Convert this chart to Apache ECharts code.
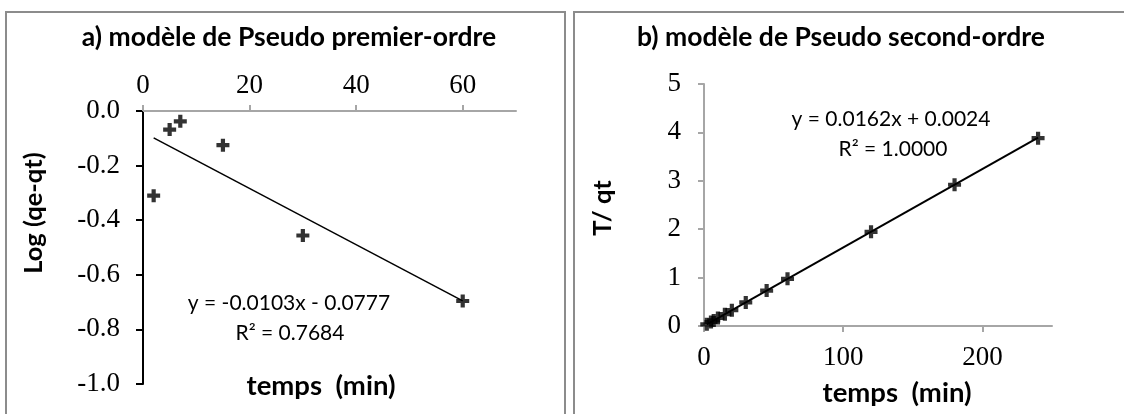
<!DOCTYPE html>
<html>
<head>
<meta charset="utf-8">
<script src="https://cdn.jsdelivr.net/npm/echarts@6/dist/echarts.min.js"></script>
<style>
  html, body { margin: 0; padding: 0; background: #fff; }
  #chart { width: 1124px; height: 414px; }
</style>
</head>
<body>
<div id="chart"></div>
<script>
// a) pseudo first-order: log(qe - qt) versus time
const timeA = [2, 5, 7, 15, 30, 60];
const logA = [-0.31, -0.068, -0.038, -0.125, -0.456, -0.696];
const slopeA = -0.0103;
const interceptA = -0.0777;
const r2A = 0.7684;

// b) pseudo second-order: t / qt versus time
const timeB = [2, 5, 7, 10, 15, 20, 30, 45, 60, 120, 180, 240];
const ratioB = [0.035, 0.083, 0.116, 0.165, 0.245, 0.326, 0.488, 0.731, 0.975, 1.946, 2.918, 3.88];
const slopeB = 0.0162;
const interceptB = 0.0024;
const r2B = 1.0;

// tick values
const ticksAX = [0, 20, 40, 60];
const ticksAY = [-1.0, -0.8, -0.6, -0.4, -0.2, 0.0];
const ticksBX = [0, 100, 200];
const ticksBY = [0, 1, 2, 3, 4, 5];

const SERIF = 'Liberation Serif';
const SANS = 'Lato';
const GRAY = '#a6a6a6';
// bold "+" marker
const PLUS = 'path://M4.4,0H8.6V4.4H13V8.6H8.6V13H4.4V8.6H0V4.4H4.4Z';

function fitLine(xs, slope, icpt) {
  const lo = Math.min(...xs), hi = Math.max(...xs);
  return [[lo, slope * lo + icpt], [hi, slope * hi + icpt]];
}
function eqText(slope, icpt) {
  const sign = icpt < 0 ? ' - ' : ' + ';
  return 'y = ' + slope.toFixed(4) + 'x' + sign + Math.abs(icpt).toFixed(4);
}
function label(text, x, y, font, rot) {
  return {
    type: 'text', x: x, y: y, rotation: rot || 0, z: 10,
    style: { text: text, x: 0, y: 0, fill: '#000', font: font,
             align: 'center', verticalAlign: 'middle',
             textAlign: 'center', textVerticalAlign: 'middle' }
  };
}

const tickLabel = { fontFamily: SERIF, fontSize: 27, color: '#000' };

const chart = echarts.init(document.getElementById('chart'), null, { renderer: 'canvas' });
chart.setOption({
  backgroundColor: '#fff',
  animation: false,
  grid: [
    { left: 143, top: 111, width: 373, height: 273 },
    { left: 704, top: 84, width: 348, height: 242 }
  ],
  xAxis: [
    {
      gridIndex: 0, type: 'value', position: 'top', min: 0, max: 70, interval: 20,
      axisLine: { show: true, onZero: false, lineStyle: { color: GRAY, width: 2 } },
      axisTick: { show: true, length: 6, customValues: ticksAX, lineStyle: { color: GRAY, width: 2 } },
      axisLabel: Object.assign({ margin: 12, customValues: ticksAX }, tickLabel),
      splitLine: { show: false }
    },
    {
      gridIndex: 1, type: 'value', min: 0, max: 250, interval: 100,
      axisLine: { show: true, onZero: false, lineStyle: { color: GRAY, width: 2 } },
      axisTick: { show: true, length: 6, customValues: ticksBX, lineStyle: { color: GRAY, width: 2 } },
      axisLabel: Object.assign({ margin: 18, customValues: ticksBX }, tickLabel),
      splitLine: { show: false }
    }
  ],
  yAxis: [
    {
      gridIndex: 0, type: 'value', min: -1, max: 0, interval: 0.2,
      axisLine: { show: true, onZero: false, lineStyle: { color: '#000', width: 2 } },
      axisTick: { show: true, length: 7, customValues: ticksAY, lineStyle: { color: '#000', width: 2 } },
      axisLabel: Object.assign({ margin: 23, customValues: ticksAY,
        formatter: v => (Math.abs(v) < 1e-9 ? 0 : v).toFixed(1) }, tickLabel),
      splitLine: { show: false }
    },
    {
      gridIndex: 1, type: 'value', min: 0, max: 5, interval: 1,
      axisLine: { show: true, onZero: false, lineStyle: { color: GRAY, width: 2 } },
      axisTick: { show: true, length: 6, customValues: ticksBY, lineStyle: { color: GRAY, width: 2 } },
      axisLabel: Object.assign({ margin: 23, customValues: ticksBY }, tickLabel),
      splitLine: { show: false }
    }
  ],
  series: [
    {
      type: 'line', xAxisIndex: 0, yAxisIndex: 0, data: fitLine(timeA, slopeA, interceptA),
      showSymbol: false, lineStyle: { color: '#000', width: 1.5 }, silent: true
    },
    {
      type: 'scatter', xAxisIndex: 0, yAxisIndex: 0,
      data: timeA.map((t, i) => [t, logA[i]]),
      symbol: PLUS, symbolSize: 13, itemStyle: { color: '#000' }
    },
    {
      type: 'line', xAxisIndex: 1, yAxisIndex: 1, data: fitLine(timeB, slopeB, interceptB),
      showSymbol: false, lineStyle: { color: '#000', width: 2 }, silent: true
    },
    {
      type: 'scatter', xAxisIndex: 1, yAxisIndex: 1,
      data: timeB.map((t, i) => [t, ratioB[i]]),
      symbol: PLUS, symbolSize: 13, itemStyle: { color: '#000' }
    }
  ],
  graphic: [
    // panel frames
    { type: 'rect', shape: { x: 6, y: 12, width: 559, height: 500 },
      style: { fill: 'none', stroke: '#8c8c8c', lineWidth: 2 }, z: 0 },
    { type: 'rect', shape: { x: 574, y: 12, width: 600, height: 500 },
      style: { fill: 'none', stroke: '#8c8c8c', lineWidth: 2 }, z: 0 },
    // titles
    label('a) modèle de Pseudo premier-ordre', 289, 37, 'bold 26.5px ' + SANS),
    label('b) modèle de Pseudo second-ordre', 841, 37, 'bold 26.5px ' + SANS),
    // axis names
    label('temps  (min)', 321, 386, 'bold 27.5px ' + SANS),
    label('temps  (min)', 897, 393, 'bold 27.5px ' + SANS),
    label('Log (qe-qt)', 34, 213, 'bold 25.5px ' + SANS, Math.PI / 2),
    label('T/ qt', 603, 208, 'bold 25.5px ' + SANS, Math.PI / 2),
    // fitted equations
    label(eqText(slopeA, interceptA), 289, 303, '21px ' + SANS),
    label('R² = ' + r2A.toFixed(4), 290, 333, '21px ' + SANS),
    label(eqText(slopeB, interceptB), 891, 119, '21px ' + SANS),
    label('R² = ' + r2B.toFixed(4), 893, 149, '21px ' + SANS)
  ]
});
</script>
</body>
</html>
